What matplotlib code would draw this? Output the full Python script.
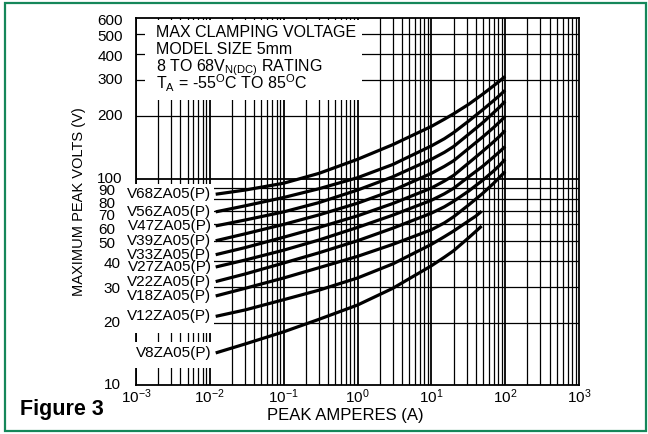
import matplotlib.pyplot as plt
from matplotlib.patches import Rectangle
from matplotlib.ticker import NullLocator, NullFormatter

plt.rcParams['font.family'] = 'Liberation Sans'
plt.rcParams['mathtext.fontset'] = 'custom'
plt.rcParams['mathtext.rm'] = 'Liberation Sans'
plt.rcParams['mathtext.it'] = 'Liberation Sans:italic'
plt.rcParams['mathtext.bf'] = 'Liberation Sans:bold'

# peak current points (A)
amps_100 = [0.012, 0.03, 0.1, 0.3, 1, 3, 10, 15, 20, 32, 50, 70, 85, 100]
amps_48 = [0.012, 0.03, 0.1, 0.3, 1, 3, 10, 15, 20, 32, 40, 48]

# max clamping voltage (V) for each model
v68 = [84, 88, 95, 106, 124, 146, 179, 194, 206, 229, 257, 282, 298, 313]
v56 = [69, 73.8, 81, 89.3, 101, 117, 144, 156, 167, 190, 216, 239, 254, 268]
v47 = [59, 63, 69, 76.5, 88, 102, 124, 134, 143, 164, 187, 209, 223, 237]
v39 = [50, 54, 60, 66.7, 76, 87.6, 106, 114.6, 122, 140, 159.5, 177, 189, 200]
v33 = [42.8, 46.3, 52, 58, 66, 75.7, 90, 97.3, 103.6, 119, 136, 151, 161, 171]
v27 = [37.3, 40.3, 45, 50.4, 58, 66.5, 78.5, 84.4, 89.7, 102, 115, 127.5, 135.5, 143]
v22 = [31.7, 34.5, 39, 43.7, 50, 57.5, 68, 73, 77.6, 87, 98.4, 109, 116.5, 124]
v18 = [27, 29.4, 33, 37, 42, 48, 56.5, 61, 65.3, 74.5, 85, 95, 102, 108]
v12 = [21.5, 23.1, 25.9, 28.8, 33, 38.6, 48, 52.3, 55.7, 62.4, 65.8, 69.5]
v8 = [14.3, 15.8, 18.1, 20.8, 24.4, 29.4, 37.8, 41.6, 44.7, 51.7, 55.5, 58.9]

models = ['V68ZA05(P)', 'V56ZA05(P)', 'V47ZA05(P)', 'V39ZA05(P)', 'V33ZA05(P)',
          'V27ZA05(P)', 'V22ZA05(P)', 'V18ZA05(P)', 'V12ZA05(P)', 'V8ZA05(P)']
volts = [v68, v56, v47, v39, v33, v27, v22, v18, v12, v8]
amps = [amps_100] * 8 + [amps_48] * 2

volt_ticks = [10, 20, 30, 40, 50, 60, 70, 80, 90, 100, 200, 300, 400, 500, 600]
amp_ticks = [1e-3, 1e-2, 1e-1, 1e0, 1e1, 1e2, 1e3]
amp_labels = [r'$\mathrm{10^{-3}}$', r'$\mathrm{10^{-2}}$', r'$\mathrm{10^{-1}}$',
              r'$\mathrm{10^{0}}$', r'$\mathrm{10^{1}}$', r'$\mathrm{10^{2}}$',
              r'$\mathrm{10^{3}}$']

W, H = 648, 434
fig = plt.figure(figsize=(W / 100, H / 100), dpi=100)
ax = fig.add_axes([136 / W, 49 / H, 443 / W, 367 / H])
ax.set_xscale('log')
ax.set_yscale('log')
ax.set_xlim(1e-3, 1e3)
ax.set_ylim(10, 600)

# grid: every 1..9 per decade on x, only the labelled values on y
for k in range(-3, 3):
    for m in range(1, 10):
        ax.axvline(m * 10.0 ** k, color='black', lw=1.3 if m == 1 else 0.9, zorder=1)
for v in volt_ticks[1:-1]:
    ax.axhline(v, color='black', lw=1.3 if v == 100 else 0.9, zorder=1)
for s in ax.spines.values():
    s.set_linewidth(1.3)

ax.xaxis.set_minor_locator(NullLocator())
ax.yaxis.set_minor_locator(NullLocator())
ax.yaxis.set_minor_formatter(NullFormatter())
ax.set_xticks(amp_ticks)
ax.set_xticklabels(amp_labels, fontsize=11)
ax.set_yticks(volt_ticks)
ax.set_yticklabels([])
ax.tick_params(length=0, pad=2)

# y labels drawn by hand so they can be nudged like the original
for v in volt_ticks:
    pad = 15 if 50 <= v <= 90 else (9.5 if v >= 100 else 11)
    shift = 4 if 60 <= v <= 80 else (2 if v not in (10, 20, 100, 200, 300) else 0)
    ax.annotate(str(v), xy=(0, v), xycoords=('axes fraction', 'data'),
                xytext=(-pad, -shift), textcoords='offset points',
                ha='right', va='center', fontsize=11)

# white boxes that hide the grid behind the text
ax.add_patch(Rectangle((9 / 443, 285 / 367), 217 / 443, 80 / 367, transform=ax.transAxes,
                       facecolor='white', edgecolor='none', zorder=3))
ax.add_patch(Rectangle((-6 / 443, 52 / 367), 84 / 443, 149 / 367, transform=ax.transAxes,
                       facecolor='white', edgecolor='none', zorder=3, clip_on=False))
ax.add_patch(Rectangle((-6 / 443, 17 / 367), 84 / 443, 26 / 367, transform=ax.transAxes,
                       facecolor='white', edgecolor='none', zorder=3, clip_on=False))

info = ['MAX CLAMPING VOLTAGE', 'MODEL SIZE 5mm',
        r'8 TO 68V$_{\mathrm{N(DC)}}$ RATING',
        r'T$_{\mathrm{A}}$ = -55$^{\mathrm{O}}$C TO 85$^{\mathrm{O}}$C']
for i, line in enumerate(info):
    ax.text(20 / 443, (348 - 17.3 * i) / 367, line, transform=ax.transAxes,
            ha='left', va='baseline', fontsize=11.5, zorder=4)

for name, a, v in zip(models, amps, volts):
    ax.plot(a, v, color='black', lw=2.3, solid_capstyle='butt', solid_joinstyle='round',
            zorder=5)
    ax.annotate(name, xy=(a[0], v[0]), xytext=(-3, 0), textcoords='offset points',
                ha='right', va='center', fontsize=11, zorder=6)

ax.set_xlabel('PEAK AMPERES (A)', fontsize=12)
ax.xaxis.set_label_coords(0.472, -0.064)
ax.set_ylabel('MAXIMUM PEAK VOLTS (V)', fontsize=10.5)
ax.yaxis.set_label_coords(-0.113, 0.5)

fig.text(20 / W, 1 - 410 / H, 'Figure 3', fontsize=15.5, fontweight='bold',
         ha='left', va='center')
fig.add_artist(Rectangle((5 / W, 3 / H), 641 / W, 428 / H, transform=fig.transFigure,
                         fill=False, edgecolor='#15875a', lw=1.6))

fig.savefig('out.png', dpi=100)
